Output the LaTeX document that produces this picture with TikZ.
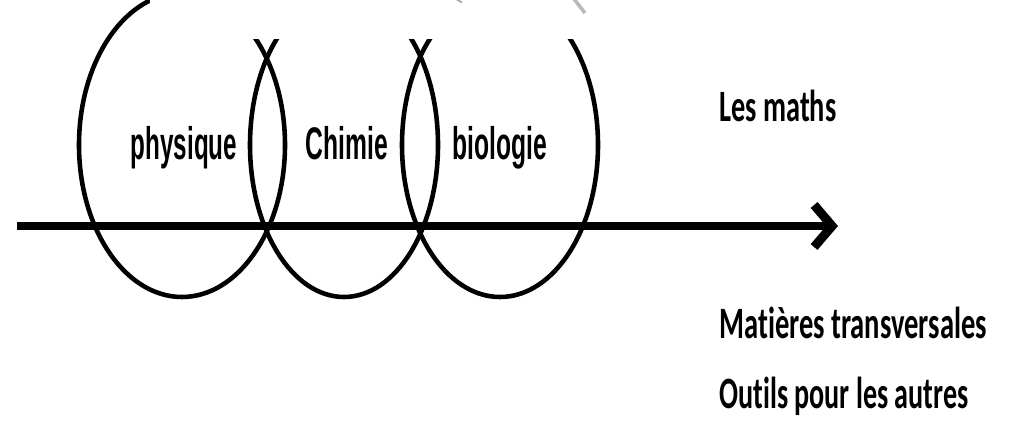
\documentclass[tikz,border=0pt]{standalone}
\usepackage{fontspec}
\usepackage{tikz}
\usetikzlibrary{shapes.geometric, arrows.meta}
\newfontfamily\arialfont{Liberation Sans}
\newfontfamily\calfont[Ligatures=NoCommon]{Carlito}
\newcommand{\narrowtxt}[2]{\scalebox{#1}[1]{#2}}

\begin{document}
\begin{tikzpicture}[ring/.style={draw, ellipse, line width=2.6pt, inner sep=0pt, minimum height=6.08cm},
  subject/.style={anchor=base, inner sep=0pt, font=\arialfont\bfseries\fontsize{26}{30}\selectfont},
  note/.style={anchor=base west, inner sep=0pt, font=\calfont\bfseries\fontsize{25.5}{29}\selectfont}]
  \clip (0,0) rectangle (20.24,8.6);
  % circles
  \node[ring, minimum width=4.12cm] (phys) at (3.64,5.70) {};
  \node[ring, minimum width=3.76cm] (chim) at (6.88,5.70) {};
  \node[ring, minimum width=3.92cm] (bio) at (10.0,5.70) {};
  % tops hidden
  \fill[white] (3.0,7.82) rectangle (13.0,8.7);
  \draw[gray!55, line width=2pt] (11.48,8.62) -- (11.70,8.34);
  \draw[gray!70, line width=1pt] (9.12,8.62) -- (9.24,8.55);
  \node[subject] (physlbl) at (3.68,5.40) {\narrowtxt{0.53}{physique}};
  \node[subject] (chimlbl) at (6.94,5.40) {\narrowtxt{0.54}{Chimie}};
  \node[subject] (biolbl) at (10.0,5.40) {\narrowtxt{0.54}{biologie}};
  % axis
  \coordinate (axstart) at (0.34,4.08);
  \coordinate (axend) at (16.76,4.08);
  \draw[line width=5.1pt, -{Straight Barb[length=3.6mm, width=8.4mm]}] (axstart) -- (axend);
  % right side
  \node[note] (maths) at (14.38,6.16) {\narrowtxt{0.632}{Les maths}};
  \node[note] (transv) at (14.38,1.84) {\narrowtxt{0.637}{Matières transversales}};
  \node[note] (outils) at (14.38,0.44) {\narrowtxt{0.627}{Outils pour les autres}};
\end{tikzpicture}
\end{document}
